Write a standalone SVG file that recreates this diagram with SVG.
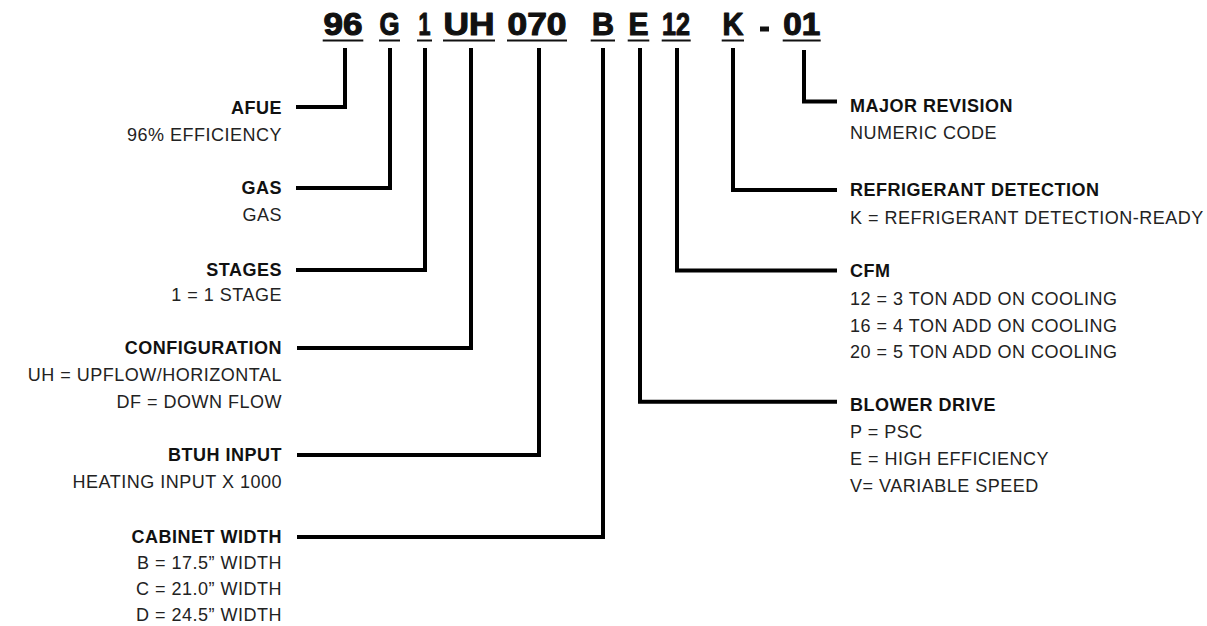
<svg xmlns="http://www.w3.org/2000/svg" width="1207" height="626" viewBox="0 0 1207 626">
<style>
.code{font-family:"Liberation Sans",Arial,sans-serif;font-weight:bold;font-size:31px;fill:#111;stroke:#111;stroke-width:1.1px;stroke-linejoin:round;text-anchor:middle}
.ul{stroke:#111;stroke-width:2.2}
.t{font-family:"Liberation Sans",Arial,sans-serif;font-weight:bold;font-size:18px;fill:#111;letter-spacing:0.5px}
.d{font-family:"Liberation Sans",Arial,sans-serif;font-size:18px;fill:#222;letter-spacing:0.5px}
.l text{text-anchor:end}
.r text{text-anchor:start}
.c{fill:none;stroke:#000;stroke-width:4;stroke-linejoin:miter;stroke-linecap:butt}
</style>
<rect width="1207" height="626" fill="#fff"/>
<g id="model-code">
<text class="code" x="343" y="35" textLength="39" lengthAdjust="spacingAndGlyphs">96</text>
<text class="code" x="389.5" y="35" textLength="20" lengthAdjust="spacingAndGlyphs">G</text>
<text class="code" x="424.5" y="35" textLength="12" lengthAdjust="spacingAndGlyphs">1</text>
<text class="code" x="469" y="35" textLength="51" lengthAdjust="spacingAndGlyphs">UH</text>
<text class="code" x="537" y="35" textLength="59" lengthAdjust="spacingAndGlyphs">070</text>
<text class="code" x="603" y="35" textLength="22" lengthAdjust="spacingAndGlyphs">B</text>
<text class="code" x="638.5" y="35" textLength="20" lengthAdjust="spacingAndGlyphs">E</text>
<text class="code" x="676" y="35" textLength="28" lengthAdjust="spacingAndGlyphs">12</text>
<text class="code" x="733" y="35" textLength="21" lengthAdjust="spacingAndGlyphs">K</text>
<rect x="760" y="26.5" width="9" height="5" fill="#111"/>
<text class="code" x="801.7" y="35" textLength="37" lengthAdjust="spacingAndGlyphs">01</text>
<path class="ul" d="M322.7 40.5H363.3M379 40.5H400M417 40.5H432M443 40.5H495M507 40.5H567M590.7 40.5H615M627.7 40.5H649.3M661.7 40.5H690.7M721.7 40.5H744M782.7 40.5H820.7"/>
</g>
<g id="connectors">
<path class="c" d="M345 48V107H296"/>
<path class="c" d="M390 48V188H296"/>
<path class="c" d="M425 48V270H296"/>
<path class="c" d="M471 48V348H297"/>
<path class="c" d="M539 48V455H297"/>
<path class="c" d="M603 48V537H297"/>
<path class="c" d="M804 50V101.5H837"/>
<path class="c" d="M733 48V190H837"/>
<path class="c" d="M677 48V270.5H837"/>
<path class="c" d="M640 48V401.7H837"/>
</g>
<g id="afue" class="l">
<text class="t" x="282" y="113.5">AFUE</text>
<text class="d" x="282" y="141">96% EFFICIENCY</text>
</g>
<g id="gas" class="l">
<text class="t" x="282" y="194">GAS</text>
<text class="d" x="282" y="220.5">GAS</text>
</g>
<g id="stages" class="l">
<text class="t" x="282" y="275.5">STAGES</text>
<text class="d" x="282" y="301">1 = 1 STAGE</text>
</g>
<g id="configuration" class="l">
<text class="t" x="282" y="354">CONFIGURATION</text>
<text class="d" x="282" y="381">UH = UPFLOW/HORIZONTAL</text>
<text class="d" x="282" y="408">DF = DOWN FLOW</text>
</g>
<g id="btuh-input" class="l">
<text class="t" x="282" y="461">BTUH INPUT</text>
<text class="d" x="282" y="488">HEATING INPUT X 1000</text>
</g>
<g id="cabinet-width" class="l">
<text class="t" x="282" y="542.5">CABINET WIDTH</text>
<text class="d" x="282" y="568.5">B = 17.5” WIDTH</text>
<text class="d" x="282" y="594.5">C = 21.0” WIDTH</text>
<text class="d" x="282" y="620.5">D = 24.5” WIDTH</text>
</g>
<g id="major-revision" class="r">
<text class="t" x="850" y="111.5">MAJOR REVISION</text>
<text class="d" x="850" y="139">NUMERIC CODE</text>
</g>
<g id="refrigerant-detection" class="r">
<text class="t" x="850" y="195.5">REFRIGERANT DETECTION</text>
<text class="d" x="850" y="223.5">K = REFRIGERANT DETECTION-READY</text>
</g>
<g id="cfm" class="r">
<text class="t" x="850" y="277">CFM</text>
<text class="d" x="850" y="305">12 = 3 TON ADD ON COOLING</text>
<text class="d" x="850" y="331.5">16 = 4 TON ADD ON COOLING</text>
<text class="d" x="850" y="357.7">20 = 5 TON ADD ON COOLING</text>
</g>
<g id="blower-drive" class="r">
<text class="t" x="850" y="411">BLOWER DRIVE</text>
<text class="d" x="850" y="437.5">P = PSC</text>
<text class="d" x="850" y="464.5">E = HIGH EFFICIENCY</text>
<text class="d" x="850" y="491.5">V= VARIABLE SPEED</text>
</g>
</svg>
